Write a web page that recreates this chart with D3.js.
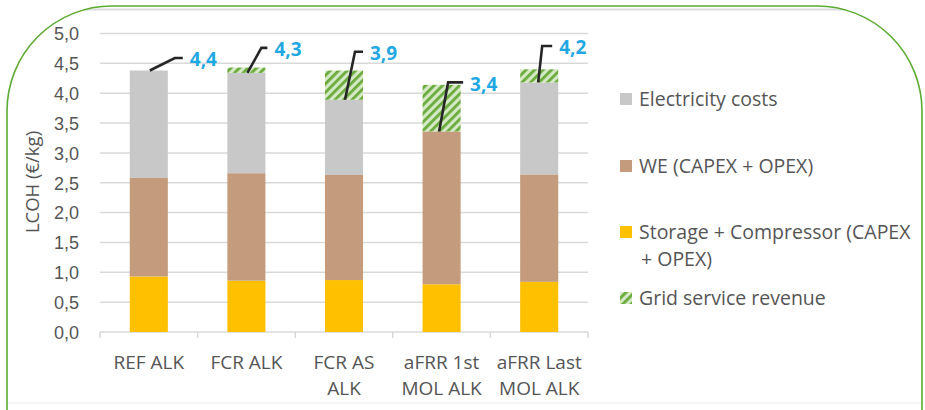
<!DOCTYPE html>
<html>
<head>
<meta charset="utf-8">
<script src="https://cdn.jsdelivr.net/npm/d3@7"></script>
<style>
  html, body { margin: 0; padding: 0; background: #ffffff; }
  svg { display: block; font-family: "Open Sans", "Noto Sans", sans-serif; }
</style>
</head>
<body>
<svg id="chart" width="925" height="410"></svg>
<script>
// LCOH breakdown per operating case (€/kg)
const categories = ["REF ALK", "FCR ALK", "FCR AS ALK", "aFRR 1st MOL ALK", "aFRR Last MOL ALK"];
const categoryLines = [["REF ALK"], ["FCR ALK"], ["FCR AS", "ALK"], ["aFRR 1st", "MOL ALK"], ["aFRR Last", "MOL ALK"]];
const storageCompressor = [0.93, 0.86, 0.87, 0.80, 0.84];
const weCapexOpex = [1.65, 1.80, 1.76, 2.56, 1.80];
const electricityCosts = [1.80, 1.68, 1.26, 0.00, 1.54];
const gridServiceRevenue = [0.00, 0.09, 0.49, 0.78, 0.22];
const yTicks = [0, 0.5, 1.0, 1.5, 2.0, 2.5, 3.0, 3.5, 4.0, 4.5, 5.0];

const legendLines = [["Electricity costs"], ["WE (CAPEX + OPEX)"], ["Storage + Compressor (CAPEX", "+ OPEX)"], ["Grid service revenue"]];

// Callout leader geometry: start x shift, elbow x shift, elbow rise, horizontal tail length
const calloutOffsets = [
  { sx: 1, ex: 26, ey: -12.5, len: 8 },
  { sx: 1, ex: 15, ey: -25, len: 6 },
  { sx: 1, ex: 11, ey: -48, len: 8 },
  { sx: -2.5, ex: 6.5, ey: -49, len: 15 },
  { sx: -1, ex: 3, ey: -36.5, len: 10 }
];

const colors = {
  storage: "#ffc000",
  we: "#c49b7c",
  elec: "#c8c8c8",
  hatchBg: "#d6e9c6",
  hatch: "#6aab3c",
  text: "#555555",
  grid: "#d9d9d9",
  label: "#1fa8e2",
  leader: "#262626",
  frame: "#5cab32"
};

const svg = d3.select("#chart");
const defs = svg.append("defs");

// Diagonal hatch for the revenue segment
const pat = defs.append("pattern")
  .attr("id", "hatch")
  .attr("patternUnits", "userSpaceOnUse")
  .attr("width", 6).attr("height", 6)
  .attr("patternTransform", "rotate(45)");
pat.append("rect").attr("width", 6).attr("height", 6).attr("fill", colors.hatchBg);
pat.append("rect").attr("width", 2.8).attr("height", 6).attr("fill", colors.hatch);

// Rounded outer frame
const frame = { x0: 7, y0: 6, x1: 922, y1: 560, r: 105 };
function roundedPath(f) {
  return `M${f.x0},${f.y0 + f.r} A${f.r},${f.r} 0 0 1 ${f.x0 + f.r},${f.y0}` +
    ` L${f.x1 - f.r},${f.y0} A${f.r},${f.r} 0 0 1 ${f.x1},${f.y0 + f.r}` +
    ` L${f.x1},${f.y1} L${f.x0},${f.y1} Z`;
}
defs.append("clipPath").attr("id", "frameClip")
  .append("path").attr("d", roundedPath(frame));

// Inner chart border top edge, clipped by the frame
svg.append("line")
  .attr("clip-path", "url(#frameClip)")
  .attr("x1", 3).attr("x2", 922).attr("y1", 9.5).attr("y2", 9.5)
  .attr("stroke", "#dcdcdc").attr("stroke-width", 2);
svg.append("line")
  .attr("x1", 8).attr("x2", 921).attr("y1", 403).attr("y2", 403)
  .attr("stroke", "#f2f2f2").attr("stroke-width", 1.5);

svg.append("path")
  .attr("d", roundedPath(frame))
  .attr("fill", "none").attr("stroke", colors.frame).attr("stroke-width", 1.6);

// Scales
const x = d3.scaleBand().domain(categories).range([100, 588]).paddingInner(0.61).paddingOuter(0.305);
const y = d3.scaleLinear().domain([0, 5]).range([332, 33.5]);
const fmt = v => d3.format(".1f")(v).replace(".", ",");

// Gridlines
svg.append("g").selectAll("line")
  .data(yTicks.filter(t => t > 0))
  .join("line")
  .attr("x1", 100).attr("x2", 588)
  .attr("y1", d => y(d)).attr("y2", d => y(d))
  .attr("stroke", colors.grid).attr("stroke-width", 1.5);

// Y axis labels
const yAxis = d3.axisLeft(y).tickValues(yTicks).tickFormat(fmt).tickSize(0).tickPadding(0);
const yg = svg.append("g").attr("transform", "translate(79,0)").call(yAxis);
yg.select(".domain").remove();
yg.selectAll("text")
  .attr("fill", colors.text)
  .style("font-size", "18px")
  .attr("dy", "0.35em");

// X axis baseline with category separators
const xAxisG = svg.append("g");
xAxisG.append("line")
  .attr("x1", 100).attr("x2", 588).attr("y1", y(0)).attr("y2", y(0))
  .attr("stroke", colors.grid).attr("stroke-width", 1.5);
const step = x.step();
xAxisG.selectAll("line.sep")
  .data(d3.range(categories.length + 1))
  .join("line").attr("class", "sep")
  .attr("x1", i => 100 + i * step).attr("x2", i => 100 + i * step)
  .attr("y1", y(0)).attr("y2", y(0) + 6)
  .attr("stroke", colors.grid).attr("stroke-width", 1.5);

// Category labels
xAxisG.selectAll("text.cat")
  .data(categories)
  .join("text").attr("class", "cat")
  .attr("x", d => x(d) + x.bandwidth() / 2)
  .attr("y", 369)
  .attr("text-anchor", "middle")
  .attr("fill", colors.text)
  .style("font-size", "19px")
  .each(function (d, i) {
    d3.select(this).selectAll("tspan")
      .data(categoryLines[i])
      .join("tspan")
      .attr("x", x(d) + x.bandwidth() / 2)
      .attr("dy", (t, j) => j === 0 ? 0 : 26)
      .text(t => t);
  });

// Y axis title
svg.append("text")
  .attr("transform", "translate(39,182) rotate(-90)")
  .attr("text-anchor", "middle")
  .attr("fill", colors.text)
  .style("font-size", "18.5px")
  .text("LCOH (€/kg)");

// Stacked bars
const rows = categories.map((c, i) => ({
  cat: c,
  storage: storageCompressor[i],
  we: weCapexOpex[i],
  elec: electricityCosts[i],
  grid: gridServiceRevenue[i]
}));
const stack = d3.stack().keys(["storage", "we", "elec", "grid"])(rows);
const fills = { storage: colors.storage, we: colors.we, elec: colors.elec, grid: "url(#hatch)" };

svg.append("g").selectAll("g")
  .data(stack)
  .join("g")
  .attr("fill", s => fills[s.key])
  .selectAll("rect")
  .data(s => s)
  .join("rect")
  .attr("x", d => x(d.data.cat))
  .attr("width", x.bandwidth())
  .attr("y", d => y(d[1]))
  .attr("height", d => Math.max(0, y(d[0]) - y(d[1])));

// Net LCOH callouts
const net = rows.map(r => r.storage + r.we + r.elec);
const callouts = svg.append("g");
rows.forEach((r, i) => {
  const o = calloutOffsets[i];
  const cx = x(r.cat) + x.bandwidth() / 2;
  const sy = y(net[i]);
  const ex = cx + o.ex, ey = sy + o.ey;
  callouts.append("path")
    .attr("d", `M${cx + o.sx},${sy} L${ex},${ey} L${ex + o.len},${ey}`)
    .attr("fill", "none").attr("stroke", colors.leader).attr("stroke-width", 2.6);
  callouts.append("text")
    .attr("x", ex + o.len + 7)
    .attr("y", ey + 1.5)
    .attr("dy", "0.35em")
    .attr("fill", colors.label)
    .style("font-size", "19px")
    .style("font-weight", "700")
    .text(fmt(net[i]));
});

// Legend
const legendItems = [
  { fill: colors.elec, lines: legendLines[0], y: 99 },
  { fill: colors.we, lines: legendLines[1], y: 166 },
  { fill: colors.storage, lines: legendLines[2], y: 232 },
  { fill: "url(#hatch)", lines: legendLines[3], y: 298 }
];
const lg = svg.append("g");
legendItems.forEach(it => {
  lg.append("rect")
    .attr("x", 620).attr("y", it.y - 6).attr("width", 12).attr("height", 12)
    .attr("fill", it.fill);
  const t = lg.append("text")
    .attr("x", 639).attr("y", it.y)
    .attr("fill", colors.text)
    .style("font-size", "19.5px");
  t.selectAll("tspan").data(it.lines).join("tspan")
    .attr("x", (d, j) => j === 0 ? 639 : 641)
    .attr("dy", (d, j) => j === 0 ? "0.35em" : 27)
    .text(d => d);
});
</script>
</body>
</html>
